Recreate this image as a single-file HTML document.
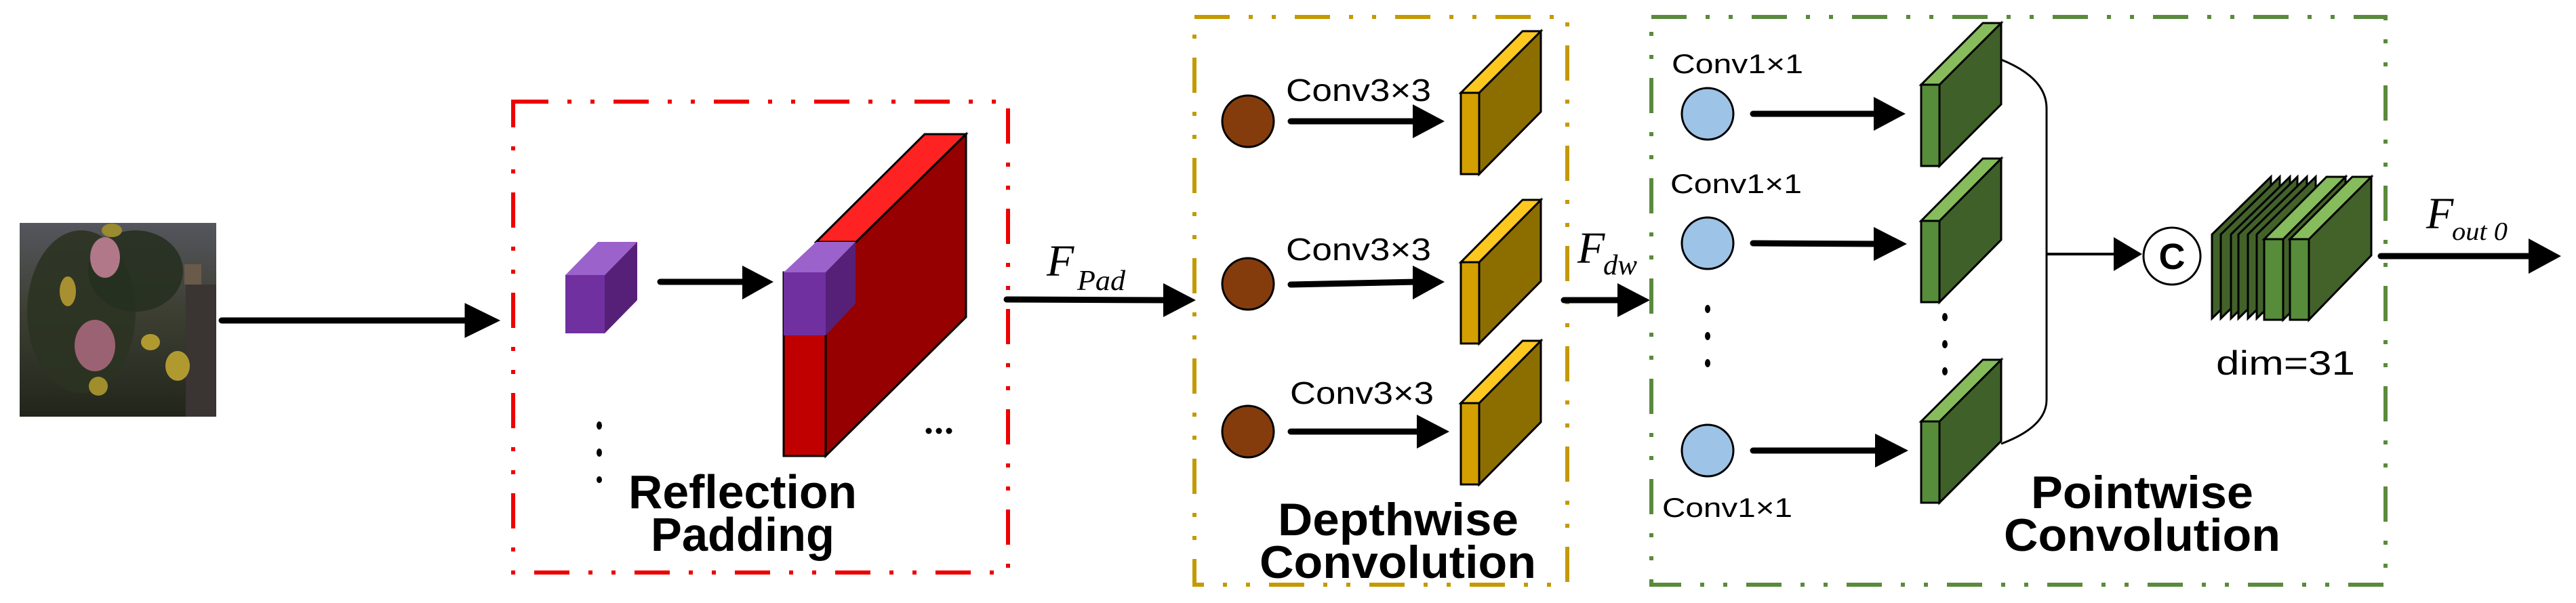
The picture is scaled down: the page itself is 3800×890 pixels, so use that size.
<!DOCTYPE html>
<html><head><meta charset="utf-8"><style>html,body{margin:0;padding:0;background:#fff;width:3800px;height:890px;overflow:hidden}</style></head>
<body>
<svg width="3800" height="890" viewBox="0 0 3800 890" xmlns="http://www.w3.org/2000/svg">
<defs>
<marker id="ah" markerWidth="10" markerHeight="10" refX="9" refY="5" orient="auto" markerUnits="userSpaceOnUse" viewBox="0 0 10 10"></marker>
<linearGradient id="sky" x1="0" y1="0" x2="0" y2="1"><stop offset="0" stop-color="#55565e"/><stop offset="0.45" stop-color="#3d3f33"/><stop offset="1" stop-color="#22261a"/></linearGradient>
</defs>

<!-- photo -->
<rect x="29" y="329" width="290" height="286" fill="url(#sky)"/>
<rect x="274" y="420" width="45" height="195" fill="#3a3432"/>
<rect x="272" y="390" width="25" height="30" fill="#6a5a4a"/>
<ellipse cx="120" cy="460" rx="80" ry="120" fill="#2b3322" opacity="0.9"/>
<ellipse cx="200" cy="400" rx="70" ry="60" fill="#263020" opacity="0.9"/>
<ellipse cx="155" cy="380" rx="22" ry="30" fill="#b07888"/>
<ellipse cx="140" cy="510" rx="30" ry="38" fill="#9a6272"/>
<ellipse cx="100" cy="430" rx="12" ry="22" fill="#a89030"/>
<ellipse cx="222" cy="505" rx="14" ry="12" fill="#b09a30"/>
<ellipse cx="262" cy="540" rx="18" ry="22" fill="#b09a30"/>
<ellipse cx="145" cy="570" rx="14" ry="14" fill="#a08e2c"/>
<ellipse cx="165" cy="340" rx="15" ry="10" fill="#9a8a30"/>

<!-- arrow 1 -->
<g fill="#000" stroke="#000">
<line x1="327" y1="473" x2="690" y2="473" stroke-width="9" stroke-linecap="round"/>
<polygon points="686,448 737,473 686,498"/>
</g>

<!-- red box -->
<rect x="757" y="150" width="730" height="695" fill="none" stroke="#ee0000" stroke-width="6" stroke-dasharray="52 28 6 28 6 28"/>

<!-- small purple cube -->
<polygon points="834,406 882,357 940,357 892,406" fill="#9c62cc"/>
<polygon points="892,406 940,357 940,443 892,492" fill="#562078"/>
<rect x="834" y="406" width="58" height="86" fill="#7030a0"/>

<!-- arrow 2 -->
<line x1="974" y1="416" x2="1100" y2="416" stroke="#000" stroke-width="9" stroke-linecap="round"/>
<polygon points="1095,392 1141,416 1095,442" fill="#000"/>

<!-- red slab -->
<polygon points="1218,357 1263,357 1425,198 1425,468 1218,673" fill="#960000" stroke="#000" stroke-width="3"/>
<polygon points="1204,357 1263,357 1425,198 1364,198" fill="#ff2222" stroke="#000" stroke-width="3"/>
<rect x="1156" y="402" width="62" height="271" fill="#c00000" stroke="#000" stroke-width="3"/>
<polygon points="1156,402 1204,357 1262,357 1218,402" fill="#9c62cc"/>
<polygon points="1218,402 1262,357 1262,448 1218,495" fill="#562078"/>
<rect x="1156" y="402" width="62" height="93" fill="#7030a0"/>

<!-- dots -->
<g fill="#000">
<ellipse cx="884" cy="628" rx="4" ry="6"/><ellipse cx="884" cy="668" rx="4" ry="6"/><ellipse cx="884" cy="708" rx="4" ry="5"/>
<circle cx="1370" cy="636" r="4.5"/><circle cx="1385" cy="636" r="4.5"/><circle cx="1400" cy="636" r="4.5"/>
</g>

<g font-family="Liberation Sans, sans-serif" font-weight="bold" fill="#000">
<text x="927" y="750" font-size="70" textLength="337" lengthAdjust="spacingAndGlyphs">Reflection</text>
<text x="960" y="813" font-size="70" textLength="271" lengthAdjust="spacingAndGlyphs">Padding</text>
<text x="1885" y="790" font-size="68" textLength="355" lengthAdjust="spacingAndGlyphs">Depthwise</text>
<text x="1858" y="853" font-size="68" textLength="408" lengthAdjust="spacingAndGlyphs">Convolution</text>
<text x="2996" y="750" font-size="68" textLength="328" lengthAdjust="spacingAndGlyphs">Pointwise</text>
<text x="2956" y="813" font-size="68" textLength="408" lengthAdjust="spacingAndGlyphs">Convolution</text>
</g>

<!-- F_pad -->
<g font-family="Liberation Serif, serif" font-style="italic" fill="#000">
<text x="1544" y="407" font-size="66">F</text>
<text x="1589" y="428" font-size="42" textLength="71" lengthAdjust="spacingAndGlyphs">Pad</text>
<text x="2327" y="388" font-size="66">F</text>
<text x="2365" y="405" font-size="42" textLength="50" lengthAdjust="spacingAndGlyphs">dw</text>
<text x="3579" y="337" font-size="66">F</text>
<text x="3617" y="354" font-size="38" textLength="82" lengthAdjust="spacingAndGlyphs">out 0</text>
</g>

<!-- arrow 3 -->
<line x1="1485" y1="442" x2="1720" y2="443" stroke="#000" stroke-width="9" stroke-linecap="round"/>
<polygon points="1716,418 1764,443 1716,468" fill="#000"/>

<!-- gold box -->
<rect x="1762" y="25" width="550" height="838" fill="none" stroke="#c49a00" stroke-width="6" stroke-dasharray="52 28 6 28 6 28"/>

<!-- brown circles & arrows -->
<g stroke="#000" stroke-width="3" fill="#843c0c">
<circle cx="1841" cy="179" r="38"/><circle cx="1841" cy="419" r="38"/><circle cx="1841" cy="637" r="38"/>
</g>
<g stroke="#000" stroke-width="9" stroke-linecap="round">
<line x1="1904" y1="179" x2="2090" y2="179"/>
<line x1="1904" y1="420" x2="2090" y2="416"/>
<line x1="1904" y1="637" x2="2095" y2="637"/>
</g>
<g fill="#000">
<polygon points="2084,154 2131,179 2084,204"/>
<polygon points="2084,392 2131,416 2084,442"/>
<polygon points="2090,612 2138,637 2090,662"/>
</g>
<g font-family="Liberation Sans, sans-serif" font-size="46" fill="#000">
<text x="1897" y="149" textLength="214" lengthAdjust="spacingAndGlyphs">Conv3×3</text>
<text x="1897" y="384" textLength="214" lengthAdjust="spacingAndGlyphs">Conv3×3</text>
<text x="1903" y="596" textLength="212" lengthAdjust="spacingAndGlyphs">Conv3×3</text>
</g>

<!-- gold slabs -->
<g stroke="#000" stroke-width="3">
<polygon points="2182,137 2273,46 2273,165 2182,257" fill="#8c6e00"/>
<polygon points="2155,137 2182,137 2273,46 2246,46" fill="#ffc820"/>
<rect x="2155" y="137" width="27" height="120" fill="#d4a000"/>
<polygon points="2182,387 2273,295 2273,415 2182,507" fill="#8c6e00"/>
<polygon points="2155,387 2182,387 2273,295 2246,295" fill="#ffc820"/>
<rect x="2155" y="387" width="27" height="120" fill="#d4a000"/>
<polygon points="2182,595 2273,503 2273,623 2182,715" fill="#8c6e00"/>
<polygon points="2155,595 2182,595 2273,503 2246,503" fill="#ffc820"/>
<rect x="2155" y="595" width="27" height="120" fill="#d4a000"/>
</g>

<!-- F_dw arrow -->
<line x1="2307" y1="443" x2="2395" y2="443" stroke="#000" stroke-width="9" stroke-linecap="round"/>
<polygon points="2386,418 2434,443 2386,468" fill="#000"/>

<!-- green box -->
<rect x="2436" y="25" width="1083" height="838" fill="none" stroke="#5a8a3c" stroke-width="6" stroke-dasharray="52 28 6 28 6 28"/>

<!-- blue circles -->
<g stroke="#000" stroke-width="3" fill="#9dc3e6">
<ellipse cx="2519" cy="168" rx="38" ry="38"/><ellipse cx="2519" cy="359" rx="38" ry="38"/><ellipse cx="2519" cy="665" rx="38" ry="38"/>
</g>
<g font-family="Liberation Sans, sans-serif" font-size="40" fill="#000">
<text x="2466" y="108" textLength="194" lengthAdjust="spacingAndGlyphs">Conv1×1</text>
<text x="2464" y="285" textLength="194" lengthAdjust="spacingAndGlyphs">Conv1×1</text>
<text x="2452" y="763" textLength="192" lengthAdjust="spacingAndGlyphs">Conv1×1</text>
<text x="3269" y="553" font-size="50" textLength="205" lengthAdjust="spacingAndGlyphs">dim=31</text>
</g>
<g stroke="#000" stroke-width="9" stroke-linecap="round">
<line x1="2586" y1="168" x2="2770" y2="168"/>
<line x1="2586" y1="359" x2="2770" y2="360"/>
<line x1="2586" y1="665" x2="2770" y2="665"/>
</g>
<g fill="#000">
<polygon points="2764,143 2811,168 2764,193"/>
<polygon points="2764,335 2813,360 2764,385"/>
<polygon points="2766,640 2815,665 2766,690"/>
<ellipse cx="2519" cy="456" rx="4" ry="6"/><ellipse cx="2519" cy="496" rx="4" ry="6"/><ellipse cx="2519" cy="536" rx="4" ry="6"/>
<ellipse cx="2869" cy="468" rx="4" ry="6"/><ellipse cx="2869" cy="508" rx="4" ry="6"/><ellipse cx="2869" cy="548" rx="4" ry="6"/>
</g>

<!-- green slabs -->
<g stroke="#000" stroke-width="3">
<polygon points="2861,125 2952,34 2952,154 2861,245" fill="#3f6129"/>
<polygon points="2834,125 2861,125 2952,34 2925,34" fill="#86bc5c"/>
<rect x="2834" y="125" width="27" height="120" fill="#568c3a"/>
<polygon points="2861,326 2952,234 2952,354 2861,446" fill="#3f6129"/>
<polygon points="2834,326 2861,326 2952,234 2925,234" fill="#86bc5c"/>
<rect x="2834" y="326" width="27" height="120" fill="#568c3a"/>
<polygon points="2861,622 2952,531 2952,651 2861,742" fill="#3f6129"/>
<polygon points="2834,622 2861,622 2952,531 2925,531" fill="#86bc5c"/>
<rect x="2834" y="622" width="27" height="120" fill="#568c3a"/>
</g>

<!-- bracket -->
<path d="M2952,88 Q3019,115 3019,160 L3019,590 Q3019,630 2952,655" fill="none" stroke="#000" stroke-width="3"/>
<line x1="3019" y1="375" x2="3125" y2="375" stroke="#000" stroke-width="4"/>
<polygon points="3118,350 3160,375 3118,400" fill="#000"/>
<circle cx="3204" cy="378" r="42" fill="#fff" stroke="#000" stroke-width="3"/>
<text x="3204" y="397" font-family="Liberation Sans, sans-serif" font-weight="bold" font-size="54" text-anchor="middle">C</text>

<!-- stacked slabs -->
<g stroke="#000" stroke-width="3" fill="#42622a">
<polygon points="3263,346 3350,261 3350,385 3263,470"/>
<polygon points="3276,346 3363,261 3363,385 3276,470"/>
<polygon points="3291,346 3378,261 3378,385 3291,470"/>
<polygon points="3302,346 3389,261 3389,385 3302,470"/>
<polygon points="3316,346 3403,261 3403,385 3316,470"/>
<polygon points="3329,346 3416,261 3416,385 3329,470"/>
<polygon points="3368,353 3460,261 3460,380 3368,472"/>
<polygon points="3340,353 3368,353 3460,261 3432,261" fill="#86bc5c"/>
<rect x="3340" y="353" width="28" height="119" fill="#568c3a"/>
<polygon points="3406,353 3498,261 3498,377 3406,472"/>
<polygon points="3378,353 3406,353 3498,261 3470,261" fill="#86bc5c"/>
<rect x="3378" y="353" width="28" height="119" fill="#568c3a"/>
</g>

<!-- out arrow -->
<line x1="3512" y1="378" x2="3735" y2="378" stroke="#000" stroke-width="9" stroke-linecap="round"/>
<polygon points="3730,352 3778,378 3730,404" fill="#000"/>
</svg>
</body></html>
